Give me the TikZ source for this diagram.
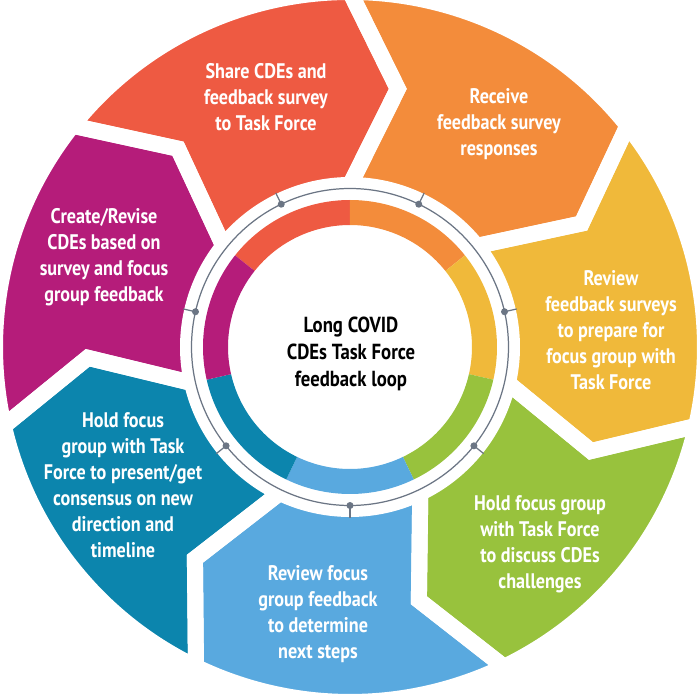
\documentclass[tikz,border=0pt]{standalone}
\usepackage{fontspec}
\setmainfont{PT Sans}[FakeStretch=0.86]
\usetikzlibrary{calc}
\usetikzlibrary{positioning}

\definecolor{shareRed}{HTML}{EE5A42}
\definecolor{receiveOrange}{HTML}{F38C3B}
\definecolor{reviewYellow}{HTML}{F0B93A}
\definecolor{holdGreen}{HTML}{98C23D}
\definecolor{focusBlue}{HTML}{59A9DF}
\definecolor{consensusTeal}{HTML}{0C85AD}
\definecolor{reviseMagenta}{HTML}{B51C7A}
\definecolor{ringGray}{HTML}{6B7584}

\tikzset{
  steptext/.style={text=white,font=\bfseries\fontsize{12}{14.8}\selectfont,align=center,inner sep=0pt},
  hubtext/.style={text=black,font=\bfseries\fontsize{12.4}{15.2}\selectfont,align=center,inner sep=0pt},
  ringdot/.style={circle,fill=ringGray,inner sep=0pt,minimum size=0.14cm},
  gap/.style={draw=white,line width=0.32cm,line join=miter}
}

\begin{document}
\begin{tikzpicture}

  \useasboundingbox (-7,-7.06) rectangle (7,6.94);

  \foreach \c/\col in {115.714/shareRed,64.286/receiveOrange,12.857/reviewYellow,-38.571/holdGreen,-90/focusBlue,-141.429/consensusTeal,-192.857/reviseMagenta} {
    \pgfmathsetmacro\tailA{\c+25.714}
    \pgfmathsetmacro\headA{\c-25.714}
    \pgfmathsetmacro\tipA{\headA-10.5}
    \pgfmathsetmacro\notchA{\tailA-10.5}
    \fill [\col] (\tailA:7.1) arc [start angle=\tailA,end angle=\headA,radius=7.1]
      -- (\tipA:5.25) -- (\headA:3.24) arc [start angle=\headA,end angle=\tailA,radius=3.24]
      -- (\notchA:5.25) -- cycle;
    \fill [\col] (\tailA:2.94) arc [start angle=\tailA,end angle=\headA,radius=2.94]
      -- (\headA:2.44) arc [start angle=\headA,end angle=\tailA,radius=2.44] -- cycle;
  }

  \foreach \c in {115.714,64.286,12.857,-38.571,-90,-141.429,-192.857} {
    \pgfmathsetmacro\tailA{\c+25.714}
    \pgfmathsetmacro\headA{\c-25.714}
    \pgfmathsetmacro\tipA{\headA-10.5}
    \pgfmathsetmacro\notchA{\tailA-10.5}
    \path [gap] (\tailA:7.1) arc [start angle=\tailA,end angle=\headA,radius=7.1]
      -- (\tipA:5.25) -- (\headA:3.24) arc [start angle=\headA,end angle=\tailA,radius=3.24]
      -- (\notchA:5.25) -- cycle;
  }

  \draw [ringGray,line width=0.7pt] (0,0) circle [radius=3.17];

  \foreach \c [count=\i] in {115.714,64.286,12.857,-38.571,-90,-141.429,-192.857} {
    \node [ringdot] (dot\i) at (\c:3.17) {};
    \coordinate (hang\i) at (\c:3.42);
    \draw [ringGray,line width=0.7pt] (dot\i.center) -- (hang\i);
  }

  \node [hubtext] (hub) at (0.02,-0.14) {Long COVID\\CDEs Task Force\\feedback loop};

  \node [steptext] (share) at (-1.68,4.99) {Share CDEs and\\feedback survey\\to Task Force};
  \node [steptext] (receive) at (2.98,4.46) {Receive\\feedback survey\\responses};
  \node [steptext] (review) at (5.22,0.34) {Review\\feedback surveys\\to prepare for\\focus group with\\Task Force};
  \node [steptext] (discuss) at (3.80,-3.94) {Hold focus group\\with Task Force\\to discuss CDEs\\challenges};
  \node [steptext] (determine) at (-0.64,-5.34) {Review focus\\group feedback\\to determine\\next steps};
  \node [steptext] (consensus) at (-4.54,-2.76) {Hold focus\\group with Task\\Force to present/get\\consensus on new\\direction and\\timeline};
  \node [steptext] (revise) at (-4.92,1.80) {Create/Revise\\CDEs based on\\survey and focus\\group feedback};

\end{tikzpicture}
\end{document}
